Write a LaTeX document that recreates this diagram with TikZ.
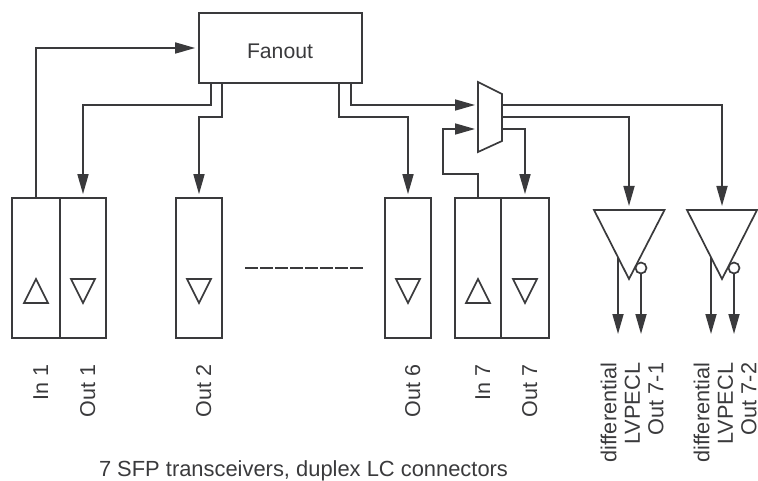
\documentclass[tikz,border=0pt]{standalone}
\usepackage{fontspec}
\setmainfont{Liberation Sans}
\usetikzlibrary{arrows.meta}
\definecolor{ink}{HTML}{3A3A3C}
\begin{document}
\begin{tikzpicture}[x=1pt,y=-1pt,line width=1.7pt,draw=ink,text=ink,line join=miter]
\tikzstyle{every node}+=[inner sep=0pt]
\tikzstyle{sfp}=[draw,minimum width=46pt,minimum height=140pt]
\tikzstyle{sfpwide}=[sfp,minimum width=48pt]
\tikzstyle{sig}=[-{Triangle[length=20pt,width=11pt]},shorten >=3pt]
\tikzstyle{portlabel}=[rotate=90,anchor=base east,font=\fontsize{21.5}{23.5}\selectfont]
\tikzstyle{difflabel}=[rotate=90,anchor=east,align=right,font=\fontsize{21.7}{23.5}\selectfont]
\useasboundingbox (0,0) rectangle (758,481);
% fanout and transceivers
\node [draw,minimum width=163pt,minimum height=70pt] (fanout) at (280.5,48) {};
\node [font=\fontsize{21.2}{23}\selectfont,anchor=base] (fanouttext) at (280,59) {Fanout};
\node [sfpwide] (in1) at (36,268) {};
\node [sfp] (out1) at (83,268) {};
\node [sfp] (out2) at (199,268) {};
\node [sfp] (out6) at (408,268) {};
\node [sfp] (in7) at (478,268) {};
\node [sfpwide] (out7) at (525,268) {};
\foreach \name in {in1,in7}
  \draw ([xshift=-12pt,yshift=-35pt]\name.center) -- ++(24,0) -- ++(-12,-24) -- cycle;
\foreach \name in {out1,out2,out6,out7}
  \draw ([xshift=-12pt,yshift=-11pt]\name.center) -- ++(24,0) -- ++(-12,24) -- cycle;
\coordinate (dashl) at (245,268);
\coordinate (dashr) at (363,268);
\draw [dash pattern=on 13.3pt off 1.7pt] (dashl) -- (dashr);
% mux
\coordinate (muxa) at (478,82);
\coordinate (muxb) at (502,94);
\coordinate (muxc) at (502,141);
\coordinate (muxd) at (478,152);
\draw (muxa) -- (muxb) -- (muxc) -- (muxd) -- cycle;
% line drivers
\coordinate (drva) at (594,210);
\coordinate (drvb) at (664.5,210);
\coordinate (drvt) at (629,279);
\coordinate (drvc) at (687,210);
\coordinate (drvd) at (757,210);
\coordinate (drvu) at (722,279);
\draw (drva) -- (drvb) -- (drvt) -- cycle;
\draw (drvc) -- (drvd) -- (drvu) -- cycle;
\node [draw,circle,minimum size=11pt] (bubbleA) at (641,268) {};
\node [draw,circle,minimum size=11pt] (bubbleB) at (734,268) {};
% connectors
\draw [sig] (in1.north) |- (fanout.west);
\coordinate (fanouta) at (211,83);
\coordinate (fanoutb) at (222,83);
\coordinate (fanoutc) at (339,83);
\coordinate (fanoutd) at (351,83);
\draw [sig] (fanouta) -- (211,105) -| (out1.north);
\draw [sig] (fanoutb) -- (222,117) -| (out2.north);
\draw [sig] (fanoutc) -- (339,117) -| (out6.north);
\coordinate (muxina) at (478,105);
\coordinate (muxinb) at (478,129);
\draw [sig] (fanoutd) |- (muxina);
\draw [sig] (in7.north) -- ++(0,-23) -| (443,129) -- (muxinb);
\coordinate (muxouta) at (502,105);
\coordinate (muxoutb) at (502,117);
\coordinate (muxoutc) at (502,129);
\coordinate (drvin) at (629,209);
\coordinate (drvinb) at (722,209);
\draw [sig] (muxouta) -| (drvinb);
\draw [sig] (muxoutb) -| (drvin);
\draw [sig] (muxoutc) -| (out7.north);
\coordinate (drvouta) at (618,257);
\coordinate (drvoutb) at (711,257);
\coordinate (enda) at (618,337);
\coordinate (endb) at (641,337);
\coordinate (endc) at (711,337);
\coordinate (endd) at (734,337);
\draw [sig] (drvouta) -- (enda);
\draw [sig] (bubbleA.south) -- (endb);
\draw [sig] (drvoutb) -- (endc);
\draw [sig] (bubbleB.south) -- (endd);
% labels
\node [portlabel] (in1text) at (48,364) {In 1};
\node [portlabel] (out1text) at (95,364) {Out 1};
\node [portlabel] (out2text) at (211,364) {Out 2};
\node [portlabel] (out6text) at (420,364) {Out 6};
\node [portlabel] (in7text) at (490,364) {In 7};
\node [portlabel] (out7text) at (537,364) {Out 7};
\node [difflabel] (diffa) at (632,362) {differential\\LVPECL\\Out 7-1};
\node [difflabel] (diffb) at (725,362) {differential\\LVPECL\\Out 7-2};
\node [font=\fontsize{21.9}{23}\selectfont,anchor=base] (caption) at (303.5,476.5) {7 SFP transceivers, duplex LC connectors};
\end{tikzpicture}
\end{document}
